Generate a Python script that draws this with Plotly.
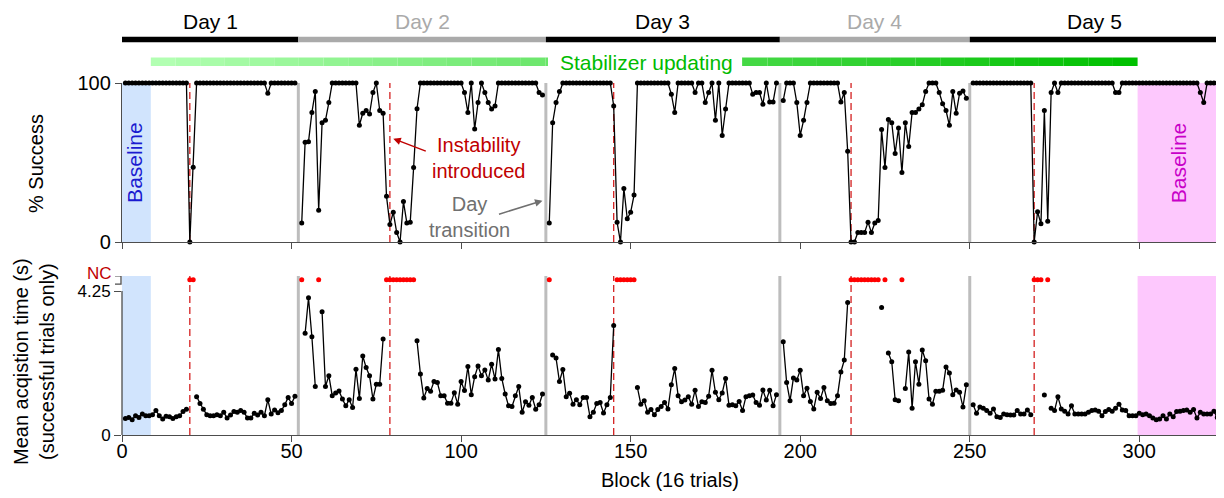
import plotly.graph_objects as go

# ---------------- data ----------------
day_names = ["Day 1", "Day 2", "Day 3", "Day 4", "Day 5"]
day_colors = ["black", "#aaaaaa", "black", "#aaaaaa", "black"]
day_transitions = [52, 125, 194, 250]
instability_blocks = [20, 79, 145, 215, 269]
day_first_block = [1, 53, 126, 195, 251]
baseline_blue = [0, 8.5]
baseline_pink = [299.5, 323.8]
x_max = 323.8
nc_level = 4.58

success_day1 = [100, 100, 100, 100, 100, 100, 100, 100, 100, 100, 100, 100, 100, 100, 100, 100, 100, 100, 100,
                0, 47,
                100, 100, 100, 100, 100, 100, 100, 100, 100, 100, 100, 100, 100, 100, 100, 100, 100, 100, 100, 100, 100,
                93.5, 100, 100, 100, 100, 100, 100, 100, 100]
success_day2 = [12, 62.8, 63, 81.5, 94.6, 20, 75, 76.5, 87.7,
                100, 100, 100, 100, 100, 100, 100, 100,
                73.4, 81, 82.7, 80.5, 94, 100, 82.7, 81, 28.7, 11, 18.7, 6, 0, 25.4, 12, 12.5, 46.8, 83.8,
                100, 100, 100, 100, 100, 100, 100, 100, 100, 100, 100, 100, 100,
                94, 81.5, 100, 71, 87.7, 100, 94, 87.7, 83.6, 85.6,
                100, 100, 100, 100, 100, 100, 100, 100, 100, 100, 100, 100,
                94, 92.5]
success_day3 = [12, 75, 87.7, 94.6,
                100, 100, 100, 100, 100, 100, 100, 100, 100, 100, 100, 100, 100, 100, 100,
                85.6, 12.5, 0, 33.7, 14.6, 18.7, 29.5,
                100, 100, 100, 100, 100, 100, 100, 100, 100, 100,
                93, 81.5, 100, 100, 100, 100, 100,
                94, 100, 100, 87.7, 94, 100, 76.5, 100, 67, 83.6,
                100, 100, 100, 100, 100, 100, 100,
                93, 94, 94, 86.7, 100, 88, 88, 100]
success_day4 = [89, 100, 100, 100, 87.7, 67, 76.5, 87.7,
                100, 100, 100, 100, 100, 100, 100, 100, 100,
                88, 94, 57, 0, 0, 6, 6, 6, 12.5, 6, 12, 13.5, 70.7, 46.8, 77, 75, 55.7, 71.7, 43.7, 75, 60,
                81.5, 81.5, 83.6, 86.3, 94.6, 100, 100, 100, 94, 87, 82.7, 73.4, 94.6, 81, 93.5, 95, 90.4]
success_day5 = [100, 100, 100, 100, 100, 100, 100, 100, 100, 100, 100, 100, 100, 100, 100, 100, 100, 100,
                0, 19, 11.4, 82.7, 13, 94, 100, 94,
                100, 100, 100, 100, 100, 100, 100, 100, 100, 100, 100, 100, 100, 100, 100, 100,
                94, 94,
                100, 100, 100, 100, 100, 100, 100, 100, 100, 100, 100, 100, 100, 100, 100, 100, 100, 100, 100,
                100, 100, 100, 100,
                94, 87.7, 100, 100, 100, 100]

N = None
time_day1 = [0.49, 0.52, 0.45, 0.57, 0.52, 0.62, 0.57, 0.57, 0.6, 0.72, 0.57, 0.47, 0.55, 0.54, 0.49, 0.54,
             0.57, 0.69, 0.76, N, N,
             1.13, 0.93, 0.76, 0.6, 0.57, 0.57, 0.6, 0.57, 0.67, 0.5, 0.59, 0.69, 0.67, 0.72, 0.67, 0.5, 0.5,
             0.64, 0.59, 0.67, 0.57, 1.04, 0.62, 0.74, 0.66, 0.72, 0.89, 1.11, 0.93, 1.14]
time_day2 = [N, 3.0, 4.05, 2.9, 1.43, N, 3.64, 1.43, 1.75, 1.16, 1.24, 1.3, 1.06, 0.86, 1.04, 0.81, 1.94,
             1.08, 2.33, 1.99, 1.75, 1.06, 1.5, 1.5, 2.83, N, N, N, N, N, N, N, N, N,
             2.78, 1.8, 1.09, 1.37, 1.29, 1.58, 1.55, 1.16, 1.16, 0.94, 0.94, 1.25, 0.91, 1.58, 1.31, 2.02,
             1.19, 1.72, 2.04, 1.75, 1.92, 1.62, 2.09, 1.65, 2.52, 1.67, 1.21, 0.86, 0.84, 1.16, 1.43, 0.67,
             0.98, 0.88, 1.11, 0.76, 0.89, 1.21]
time_day3 = [N, 2.36, 2.27, 1.58, 1.93, 1.13, 1.23, 0.91, 1.04, 0.89, 1.11, 1.11, 0.54, 0.67, 0.93, 0.96,
             0.65, 0.89, 1.11, 3.23, N, N, N, N, N, N,
             1.4, 0.91, 1.01, 0.67, 0.75, 0.6, 0.75, 0.84, 0.96, 0.77, 1.48, 1.96, 1.16, 0.98, 1.03, 1.13,
             0.91, 1.32, 0.84, 0.98, 0.96, 1.14, 1.91, 1.26, 1.04, 1.24, 1.67, 0.88, 0.89, 0.86, 0.99, 0.72,
             1.13, 1.16, 1.18, 0.96, 0.88, 1.33, 1.03, 1.32, 0.86, 1.19]
time_day4 = [2.75, 1.55, 1.01, 1.68, 1.62, 1.91, 1.16, 1.38, 0.99, 0.77, 1.26, 1.08, 1.4, 1.01, 0.93, 0.94,
             1.16, 1.86, 2.21, 3.91, N, N, N, N, N, N, N, N, N, 3.76, N, 2.42, 2.16, 1.04, 1.01, N,
             1.37, 2.45, 0.79, 2.16, 1.5, 2.51, 2.19, 1.06, 0.91, 1.29, 1.29, 1.32, 2.01, 1.83, 1.19, 1.33,
             1.26, 0.83, 1.48]
time_day5 = [0.89, 0.64, 0.83, 0.79, 0.72, 0.64, 0.77, 0.54, 0.52, 0.62, 0.6, 0.59, 0.59, 0.72, 0.62, 0.62,
             0.74, 0.6, N, N, N, 1.18, N,
             0.79, 0.72, 1.13, 0.77, 0.7, 0.62, 0.86, 0.62, 0.62, 0.62, 0.62, 0.67, 0.72, 0.74, 0.7, 0.57,
             0.69, 0.75, 0.7, 0.79, 0.91, 0.74, 0.72, 0.57, 0.57, 0.57, 0.64, 0.6, 0.62, 0.57, 0.5, 0.45,
             0.47, 0.57, 0.47, 0.62, 0.54, 0.69, 0.7, 0.72, 0.74, 0.67, 0.75, 0.5, 0.67, 0.62, 0.62, 0.62,
             0.7, 0.52]

x_ticks = [0, 50, 100, 150, 200, 250, 300]

# ---------------- assemble ----------------
success_all = [success_day1, success_day2, success_day3, success_day4, success_day5]
time_all = [time_day1, time_day2, time_day3, time_day4, time_day5]
xs, ss, ts, nc_x = [], [], [], []
for start, s, t in zip(day_first_block, success_all, time_all):
    blocks = list(range(start, start + len(s)))
    xs += blocks + [None]
    ss += s + [None]
    ts += t + [None]
    nc_x += [b for b, v in zip(blocks, t) if v is None]

FONT = "Liberation Sans, Arial, Helvetica, sans-serif"
AX = "#4d4d4d"

# the page has an 8px body margin: the figure is placed 8px in, geometry given in page pixels
OFF = 8
W, H = 1224 - OFF, 498 - OFF
L, R, T, B = 122, 1220, 83, 435          # plot-area edges in page pixels


def px(xp):
    return (xp - L) / (R - L)


def py(yp):
    return (B - yp) / (B - T)


def to_block(xp):
    return (xp - L) / (R - L) * x_max


fig = go.Figure()
fig.add_trace(go.Scatter(x=xs, y=ss, mode="lines+markers", xaxis="x", yaxis="y",
                         line=dict(color="black", width=1.3), marker=dict(color="black", size=5),
                         cliponaxis=False, connectgaps=False, hoverinfo="skip"))
fig.add_trace(go.Scatter(x=xs, y=ts, mode="lines+markers", xaxis="x2", yaxis="y2",
                         line=dict(color="black", width=1.3), marker=dict(color="black", size=5),
                         cliponaxis=False, connectgaps=False, hoverinfo="skip"))
fig.add_trace(go.Scatter(x=nc_x, y=[nc_level] * len(nc_x), mode="markers", xaxis="x2", yaxis="y2",
                         marker=dict(color="#ff0000", size=5), cliponaxis=False, hoverinfo="skip"))

shapes = []
# baseline regions
for (x0, x1), col in [(baseline_blue, "#d1e4fd"), (baseline_pink, "#fdc8fd")]:
    for xr, yr in [("x", "y domain"), ("x2", "y2 domain")]:
        shapes.append(dict(type="rect", xref=xr, yref=yr, x0=x0, x1=x1, y0=0, y1=1,
                           fillcolor=col, line=dict(width=0), layer="below"))
# day transitions
for d in day_transitions:
    for xr, yr in [("x", "y domain"), ("x2", "y2 domain")]:
        shapes.append(dict(type="line", xref=xr, yref=yr, x0=d, x1=d, y0=0, y1=1,
                           line=dict(color="#bdbdbd", width=3), layer="below"))
# instability
for d in instability_blocks:
    for xr, yr in [("x", "y domain"), ("x2", "y2 domain")]:
        shapes.append(dict(type="line", xref=xr, yref=yr, x0=d, x1=d, y0=0, y1=1,
                           line=dict(color="#d42020", width=1.3, dash="7px,4px"), layer="below"))
# day bars
bounds = [0] + day_transitions + [x_max]
for i in range(5):
    shapes.append(dict(type="line", xref="x", yref="paper", x0=bounds[i], x1=bounds[i + 1],
                       y0=py(39.5), y1=py(39.5), line=dict(color=day_colors[i], width=5.5)))
# stabilizer gradient bar, with a gap for its label
nseg = 40
g0, g1 = baseline_blue[1], baseline_pink[0]
gap0, gap1 = to_block(548), to_block(742)
c0, c1 = (178, 255, 178), (0, 192, 0)
for i in range(nseg):
    f = i / (nseg - 1)
    col = "rgb(%d,%d,%d)" % tuple(round(a + (b - a) * f) for a, b in zip(c0, c1))
    xa = g0 + (g1 - g0) * i / nseg
    xb = g0 + (g1 - g0) * (i + 1) / nseg
    pieces = []
    if xb <= gap0 or xa >= gap1:
        pieces = [(xa, xb)]
    else:
        if xa < gap0:
            pieces.append((xa, gap0))
        if xb > gap1:
            pieces.append((gap1, xb))
    for a, b in pieces:
        shapes.append(dict(type="rect", xref="x", yref="paper", x0=a, x1=b, y0=py(66), y1=py(57.5),
                           fillcolor=col, line=dict(width=0)))
# bottom-panel broken left axis
shapes.append(dict(type="line", xref="paper", yref="y2", x0=0, x1=0, y0=0, y1=4.25,
                   line=dict(color=AX, width=1.3)))
shapes.append(dict(type="path", xref="paper", yref="y2",
                   path="M %f 4.70 L %f 4.70 L %f 4.45 L %f 4.45" % (px(115), px(121), px(121), px(115)),
                   line=dict(color=AX, width=1.3)))

annotations = []
day_centers = [(bounds[i] + bounds[i + 1]) / 2 for i in range(5)]
for name, col, c in zip(day_names, day_colors, day_centers):
    annotations.append(dict(text=name, xref="x", yref="paper", x=c, y=py(21.5), showarrow=False,
                            xanchor="center", yanchor="middle", font=dict(size=21, color=col)))
annotations.append(dict(text="Stabilizer updating", xref="paper", yref="paper", x=px(646), y=py(62),
                        xanchor="center", yanchor="middle", showarrow=False,
                        font=dict(size=21, color="#00bb00")))
annotations.append(dict(text="Baseline", xref="x", yref="y", x=sum(baseline_blue) / 2 - 0.6, y=50,
                        textangle=-90, showarrow=False, font=dict(size=21, color="#1a1ad0")))
annotations.append(dict(text="Baseline", xref="x", yref="y", x=sum(baseline_pink) / 2, y=50,
                        textangle=-90, showarrow=False, font=dict(size=21, color="#c800c8")))
annotations.append(dict(text="Instability<br>introduced", xref="x", yref="y", x=105, y=53,
                        showarrow=False, font=dict(size=20, color="#c00000")))
annotations.append(dict(text="", xref="x", yref="y", x=80, y=65, ax=34, ay=13, showarrow=True,
                        arrowhead=2, arrowsize=1, arrowwidth=1.5, arrowcolor="#c00000"))
annotations.append(dict(text="Day<br>transition", xref="x", yref="y", x=102.5, y=15.5,
                        showarrow=False, font=dict(size=20, color="#707070")))
annotations.append(dict(text="", xref="x", yref="y", x=124, y=26, ax=-45, ay=14, showarrow=True,
                        arrowhead=2, arrowsize=1, arrowwidth=1.5, arrowcolor="#707070"))
annotations.append(dict(text="% Success", xref="paper", yref="paper", x=px(36), y=py(164),
                        xanchor="center", yanchor="middle",
                        textangle=-90, showarrow=False, font=dict(size=20, color="black")))
annotations.append(dict(text="Mean acqistion time (s)<br>(successful trials only)", xref="paper",
                        yref="paper", x=px(34), y=py(362), xanchor="center", yanchor="middle",
                        textangle=-90, showarrow=False, font=dict(size=20, color="black")))
annotations.append(dict(text="NC", xref="paper", yref="paper", x=px(114), y=py(273.5), xanchor="right",
                        yanchor="middle", showarrow=False, font=dict(size=17, color="#c00000")))
annotations.append(dict(text="Block (16 trials)", xref="paper", yref="paper", x=px(670), y=py(480),
                        xanchor="center", yanchor="middle",
                        showarrow=False, font=dict(size=20, color="black")))

common_x = dict(range=[0, x_max], tickvals=x_ticks, ticks="outside", ticklen=6, tickwidth=1.3,
                tickcolor=AX, showline=True, linecolor=AX, linewidth=1.3, showgrid=False,
                zeroline=False)
fig.update_layout(
    width=W, height=H,
    margin=dict(l=L - OFF, r=W - (R - OFF), t=T - OFF, b=H - (B - OFF)),
    paper_bgcolor="white", plot_bgcolor="white",
    showlegend=False,
    font=dict(family=FONT, size=20, color="black"),
    xaxis=dict(domain=[0, 1], anchor="y", showticklabels=False, **common_x),
    xaxis2=dict(domain=[0, 1], anchor="y2", showticklabels=True, tickfont=dict(size=20),
                ticklabelstandoff=-8, **common_x),
    yaxis=dict(domain=[py(242), 1], range=[0, 100], tickvals=[0, 100], ticks="outside", ticklen=6,
               tickwidth=1.3, tickcolor=AX, showline=True, linecolor=AX, linewidth=1.3,
               showgrid=False, zeroline=False, tickfont=dict(size=20)),
    yaxis2=dict(domain=[0, py(276)], range=[0, (B - 276) / ((B - 291) / 4.25)], tickvals=[0, 4.25],
                ticktext=["0", "4.25"], ticks="outside", ticklen=7, tickwidth=1.3, tickcolor=AX,
                showline=False, showgrid=False, zeroline=False, tickfont=dict(size=17)),
    shapes=shapes,
    annotations=annotations,
)

fig.write_html("out.html")
